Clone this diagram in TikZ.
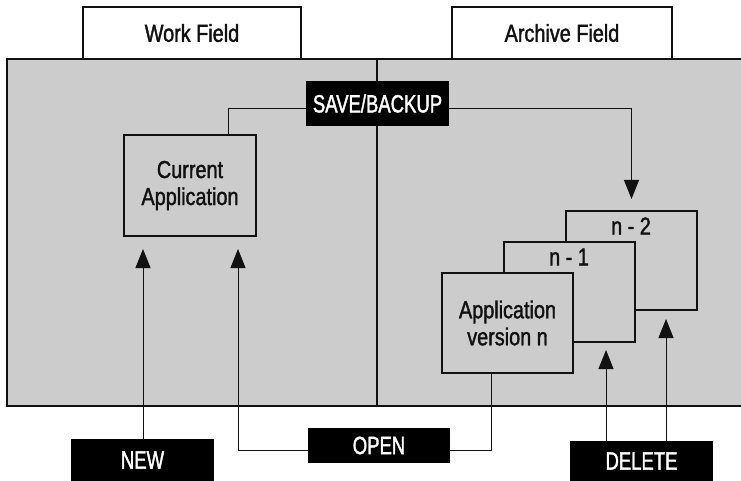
\documentclass[tikz,border=0pt]{standalone}
\usepackage{fontspec}
\setmainfont[FakeStretch=0.81,FakeBold=1.5]{Liberation Sans}
\newfontfamily\capsfont[FakeStretch=0.74,FakeBold=1.5]{Liberation Sans}
\usetikzlibrary{arrows.meta}
\definecolor{bggray}{RGB}{204,204,204}
\definecolor{ink}{RGB}{17,17,17}
\begin{document}
\begin{tikzpicture}[x=1pt,y=-1pt,
  every node/.style={font=\fontsize{24.5}{27}\selectfont, text=ink, inner sep=0pt, align=center},
  tabbox/.style={draw=ink, line width=2pt, fill=white},
  appbox/.style={draw=ink, line width=2pt, fill=bggray},
  blackbox/.style={fill=black, text=white, font=\fontsize{25}{27}\capsfont},
  conn/.style={draw=ink, line width=0.9pt},
  arr/.style={conn, -{Triangle[length=19pt,width=15pt]}}
]
\useasboundingbox (0,0) rectangle (741,481);
% field area
\fill[bggray] (7,59) rectangle (745,406);
\draw[ink, line width=2pt] (745,59) -- (7,59) -- (7,406) -- (745,406);
\draw[ink, line width=1.2pt] (377,59) -- (377,406);
% tabs
\node[tabbox, minimum width=218pt, minimum height=52pt] (wf) at (192,33) {Work Field};
\node[tabbox, minimum width=220pt, minimum height=52pt] (af) at (562,33) {Archive Field};
% archive versions
\node[appbox, minimum width=131pt, minimum height=99pt] (n2) at (631.5,260.5) {};
\node[appbox, minimum width=131pt, minimum height=100pt] (n1) at (569.5,292) {};
\node[appbox, minimum width=131pt, minimum height=100pt] (avn) at (507.5,323) {Application\\version n};
\node at (631,226) {n - 2};
\node at (569,257) {n - 1};
% current application
\node[appbox, minimum width=132pt, minimum height=101pt] (cur) at (190,185.5) {Current\\Application};
% action boxes
\node[blackbox, minimum width=143pt, minimum height=45pt] (save) at (377.5,103.5) {SAVE/BACKUP};
\node[blackbox, minimum width=143pt, minimum height=42pt] (new) at (142.5,460) {NEW};
\node[blackbox, minimum width=142pt, minimum height=35pt] (open) at (379,445.5) {OPEN};
\node[blackbox, minimum width=143pt, minimum height=40pt] (del) at (641.5,461) {DELETE};
% connector points
\coordinate (tsave) at ([yshift=11pt]n2.north);
\coordinate (tnew) at ([xshift=-47pt,yshift=-12pt]cur.south);
\coordinate (topen) at ([xshift=48pt,yshift=-12pt]cur.south);
\coordinate (tdel1) at ([xshift=36.5pt,yshift=-7pt]n1.south);
\coordinate (tdel2) at ([xshift=34.5pt,yshift=-8pt]n2.south);
% connectors
\draw[conn] ([yshift=-4.5pt]save.west) -| ([xshift=38pt]cur.north);
\draw[arr] ([yshift=-4.5pt]save.east) -| (tsave);
\draw[arr] (new.north -| tnew) -- (tnew);
\draw[arr] ([yshift=-4.5pt]open.west) -| (topen);
\draw[conn] ([yshift=-4.5pt]open.east) -| ([xshift=-16.5pt]avn.south);
\draw[arr] (del.north -| tdel1) -- (tdel1);
\draw[arr] (del.north -| tdel2) -- (tdel2);
\end{tikzpicture}
\end{document}
